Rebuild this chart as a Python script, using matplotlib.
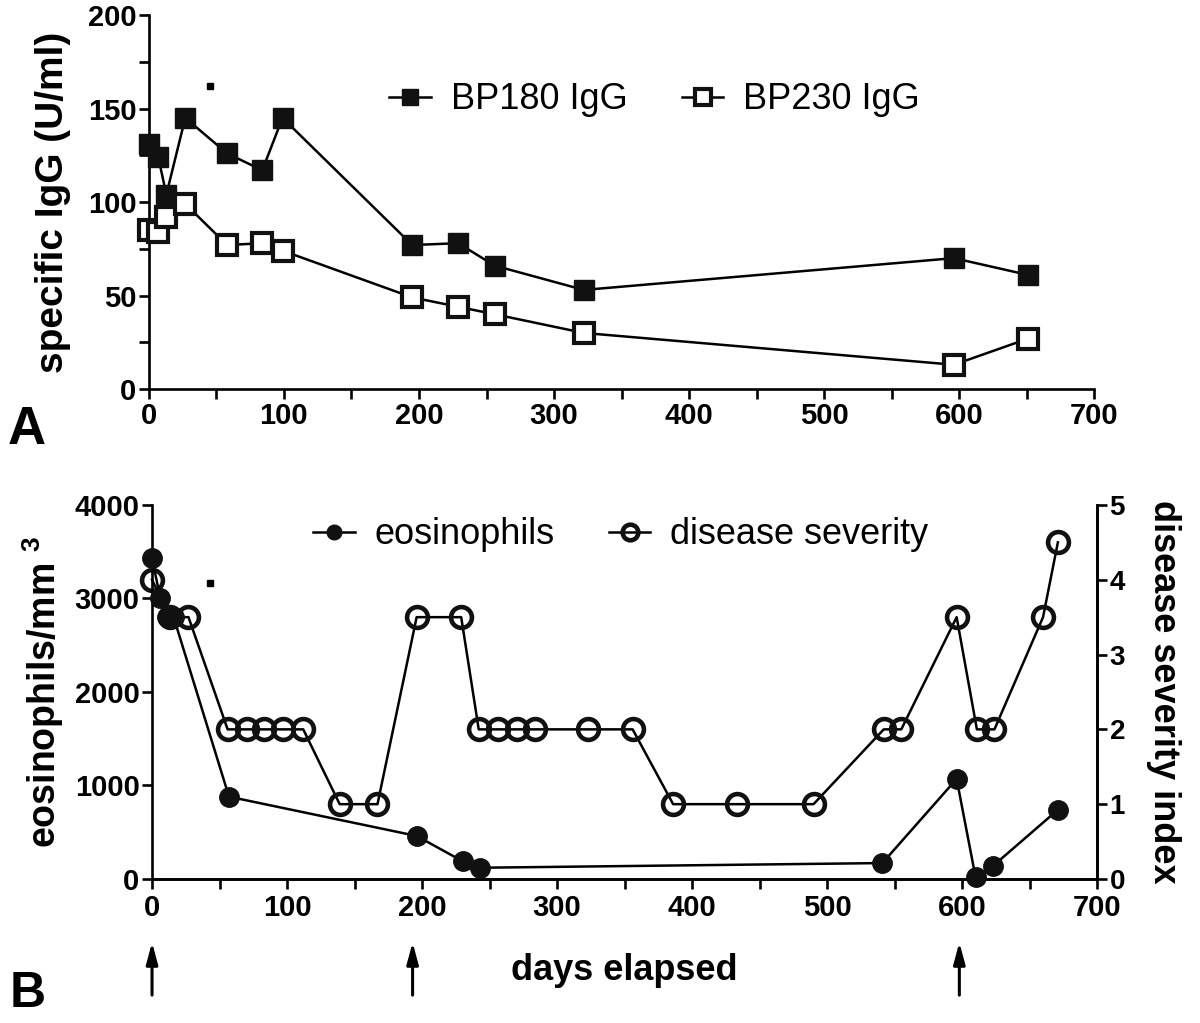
import matplotlib
matplotlib.use("Agg")
import matplotlib.pyplot as plt
from matplotlib.ticker import MultipleLocator

plt.rcParams['font.family'] = ['Liberation Sans', 'DejaVu Sans']
plt.rcParams['font.weight'] = 'bold'
plt.rcParams['mathtext.fontset'] = 'custom'
plt.rcParams['mathtext.bf'] = 'Liberation Sans:bold'
plt.rcParams['mathtext.rm'] = 'Liberation Sans:bold'

# ---- Panel A data ----
igg_days = [0, 7, 13, 27, 58, 84, 99, 195, 229, 256, 322, 596, 651]
bp180 = [131, 124, 104, 145, 126, 117, 145, 77, 78, 66, 53, 70, 61]
bp230 = [85, 84, 92, 99, 77, 78, 74, 49, 44, 40, 30, 13, 27]

# ---- Panel B data ----
eos_days = [0, 6, 11, 16, 57, 196, 230, 243, 541, 596, 610, 623, 671]
eos = [3430, 3010, 2800, 2800, 880, 460, 190, 120, 170, 1070, 20, 140, 740]

sev_days = [0, 13, 27, 56, 70, 83, 97, 112, 139, 167, 196, 229, 242, 256,
            270, 284, 323, 356, 386, 433, 490, 542, 555, 596, 611, 624, 660, 671]
severity = [4, 3.5, 3.5, 2, 2, 2, 2, 2, 1, 1, 3.5, 3.5, 2, 2,
            2, 2, 2, 2, 1, 1, 1, 2, 2, 3.5, 2, 2, 3.5, 4.5]

arrow_days = [0, 193, 598]

LW = 1.8
SPW = 1.9

fig = plt.figure(figsize=(12, 10.23), dpi=100)
ax1 = fig.add_axes([0.124, 0.6197, 0.788, 0.3656])
ax2 = fig.add_axes([0.1267, 0.1408, 0.7875, 0.3656])
ax2r = ax2.twinx()


def style_axis(ax, right=False):
    ax.spines['top'].set_visible(False)
    if not right:
        ax.spines['right'].set_visible(False)
    for s in ax.spines.values():
        s.set_linewidth(SPW)
    ax.tick_params(which='major', direction='out', length=7, width=SPW,
                   labelsize=21, pad=2)
    ax.tick_params(which='minor', direction='out', length=7, width=SPW)


# Panel A
ax1.plot(igg_days, bp180, '-s', color='black', lw=LW, ms=14.5, mfc='#111111',
         mec='#111111', label='BP180 IgG', clip_on=False, zorder=5)
ax1.plot(igg_days, bp230, '-s', color='black', lw=LW, ms=14.5, mfc='white',
         mec='#111111', mew=3.0, label='BP230 IgG', clip_on=False, zorder=5)
ax1.plot([45], [162], 's', color='black', ms=4.5)
ax1.set_xlim(0, 700)
ax1.set_ylim(0, 200)
ax1.xaxis.set_major_locator(MultipleLocator(100))
ax1.xaxis.set_minor_locator(MultipleLocator(50))
ax1.yaxis.set_major_locator(MultipleLocator(50))
ax1.yaxis.set_minor_locator(MultipleLocator(25))
style_axis(ax1)
ax1.set_ylabel('specific IgG (U/ml)', fontsize=28, fontweight='bold', labelpad=12)
ax1.legend(loc='center', bbox_to_anchor=(0.535, 0.773), ncol=2,
           frameon=False, prop={'weight': 'normal', 'size': 26},
           markerscale=0.75, handlelength=1.15, handletextpad=0.55,
           columnspacing=1.5)

# Panel B
ax2.plot(eos_days, eos, '-o', color='black', lw=LW, ms=14, mfc='#111111',
         mec='#111111', label='eosinophils', clip_on=False, zorder=6)
ax2.plot([43], [3166], 's', color='black', ms=4.5)
ax2.set_xlim(0, 700)
ax2.set_ylim(0, 4000)
ax2.xaxis.set_major_locator(MultipleLocator(100))
ax2.xaxis.set_minor_locator(MultipleLocator(50))
ax2.yaxis.set_major_locator(MultipleLocator(1000))
style_axis(ax2, right=True)
ax2.tick_params(axis='x', which='major', pad=4)
ax2.set_ylabel(r'eosinophils/mm $^{\mathbf{3}}$', fontsize=27,
               fontweight='bold', labelpad=6)
ax2.set_xlabel('days elapsed', fontsize=26, fontweight='bold', labelpad=22)

ax2r.plot(sev_days, severity, '-o', color='black', lw=LW, ms=15, mfc='none',
          mec='#111111', mew=3.3, label='disease severity', clip_on=False,
          zorder=5)
ax2r.set_ylim(0, 5)
ax2r.yaxis.set_major_locator(MultipleLocator(1))
style_axis(ax2r, right=True)
ax2r.tick_params(axis='y', labelsize=20)
ax2r.spines['left'].set_visible(False)
ax2r.set_ylabel('disease severity index', fontsize=26, fontweight='bold',
                rotation=270, labelpad=40)
ax2.set_zorder(ax2r.get_zorder() + 1)
ax2.patch.set_visible(False)

h1, l1 = ax2.get_legend_handles_labels()
h2, l2 = ax2r.get_legend_handles_labels()
ax2.legend(h1 + h2, l1 + l2, loc='center', bbox_to_anchor=(0.496, 0.92),
           ncol=2, frameon=False, prop={'weight': 'normal', 'size': 26},
           markerscale=0.75, handlelength=1.15, handletextpad=0.55,
           columnspacing=1.5)

# treatment arrows below the axis
for d in arrow_days:
    ax2.annotate('', xy=(d, -0.162), xytext=(d, -0.318),
                 xycoords=('data', 'axes fraction'),
                 textcoords=('data', 'axes fraction'),
                 arrowprops=dict(arrowstyle='-|>,head_length=1.3,head_width=0.35',
                                 color='black', lw=2.2))

fig.text(0.006, 0.566, 'A', fontsize=38, fontweight='bold', ha='left', va='baseline')
fig.text(0.008, 0.016, 'B', fontsize=36, fontweight='bold', ha='left', va='baseline')

fig.savefig('out.png', dpi=100)
